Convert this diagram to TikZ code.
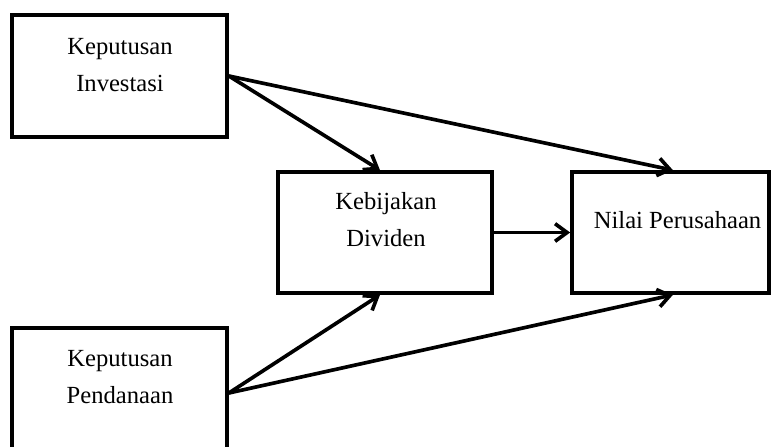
\documentclass[tikz,border=0pt]{standalone}
\usepackage{fontspec}
\setmainfont{Liberation Serif}
\usetikzlibrary{arrows.meta}

\begin{document}
\begin{tikzpicture}[x=0.025cm, y=-0.025cm,
        box/.style={draw, line width=2.6pt, inner sep=0pt},
        lbl/.style={align=center, inner sep=0pt, font=\fontsize{17.5}{26.3}\selectfont},
        arr/.style={line width=2.6pt, -{Straight Barb[length=3mm, width=4.4mm]}}]
        \clip (0,0) rectangle (773,446);

        % Left column - the two decisions
        \node[box, minimum width=5.375cm, minimum height=3.05cm] (inv) at (119.5, 76) {};
        \node[lbl] (invtxt) at (120, 65.5) {Keputusan\\Investasi};
        \node[box, minimum width=5.375cm, minimum height=3.25cm] (pend) at (119.5, 393) {};
        \node[lbl] (pendtxt) at (120, 377) {Keputusan\\Pendanaan};

        % Middle - dividend policy
        \node[box, minimum width=5.35cm, minimum height=3.025cm] (div) at (385, 232.5) {};
        \node[lbl] (divtxt) at (386, 220) {Kebijakan\\Dividen};

        % Right - firm value
        \node[box, minimum width=4.925cm, minimum height=3.025cm] (nilai) at (670.5, 232.5) {};
        \node[lbl, anchor=base] (nilaitxt) at (677.5, 228) {Nilai Perusahaan};

        % Arrows
        \draw[arr] (inv.east) -- ([xshift=-0.125cm]div.north);
        \draw[arr] (inv.east) -- ([xshift=0.06cm]nilai.north);
        \draw[arr] (div.east) -- (nilai.west);
        \draw[arr] (pend.east) -- ([xshift=-0.125cm]div.south);
        \draw[arr] (pend.east) -- ([xshift=0.06cm]nilai.south);
    \end{tikzpicture}
\end{document}
